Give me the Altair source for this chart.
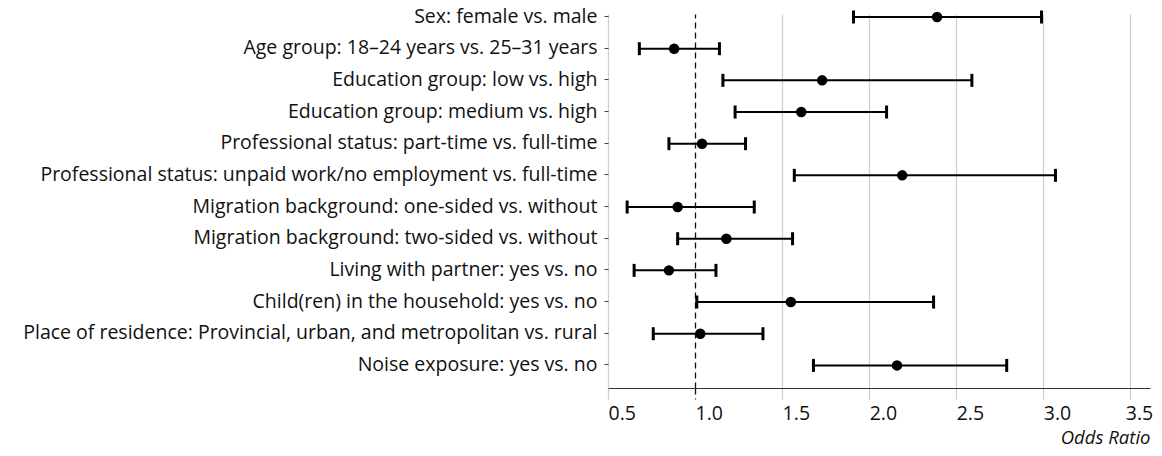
import json
import altair as alt
import pandas as pd

labels = [
    "Sex: female vs. male",
    "Age group: 18\u201324 years vs. 25\u201331 years",
    "Education group: low vs. high",
    "Education group: medium vs. high",
    "Professional status: part-time vs. full-time",
    "Professional status: unpaid work/no employment vs. full-time",
    "Migration background: one-sided vs. without",
    "Migration background: two-sided vs. without",
    "Living with partner: yes vs. no",
    "Child(ren) in the household: yes vs. no",
    "Place of residence: Provincial, urban, and metropolitan vs. rural",
    "Noise exposure: yes vs. no",
]
odds_ratio = [2.39, 0.88, 1.73, 1.61, 1.04, 2.19, 0.90, 1.18, 0.85, 1.55, 1.03, 2.16]
ci_low = [1.91, 0.68, 1.16, 1.23, 0.85, 1.57, 0.61, 0.90, 0.65, 1.01, 0.76, 1.68]
ci_high = [2.99, 1.14, 2.59, 2.10, 1.29, 3.07, 1.34, 1.56, 1.12, 2.37, 1.39, 2.79]
x_ticks = [0.5, 1.0, 1.5, 2.0, 2.5, 3.0, 3.5]

df = pd.DataFrame({
    "row": list(range(len(labels))),
    "label": labels,
    "or": odds_ratio,
    "lo": ci_low,
    "hi": ci_high,
})

FONT = "Open Sans"
FS = 19.5
label_expr = json.dumps(labels, ensure_ascii=False) + "[round(datum.value)]"

x_scale = alt.Scale(domain=[0.5, 3.613], nice=False, zero=False)
y_scale = alt.Scale(domain=[-0.095, 11.714], reverse=True, nice=False, zero=False)

x_axis = alt.Axis(
    values=x_ticks,
    format=".1f",
    title="Odds Ratio",
    titleFontStyle="italic",
    titleFontWeight="normal",
    titleFontSize=18.5,
    titleFont=FONT,
    titleColor="#111111",
    titleAnchor="end",
    titleAlign="right",
    titlePadding=6,
    labelAlign="left",
    labelOffset=alt.condition("datum.value >= 3.5", alt.value(-5), alt.value(0)),
    labelFlush=False,
    labelOverlap=False,
    labelFont=FONT,
    labelFontSize=FS,
    labelColor="#111111",
    labelPadding=5,
    tickSize=11,
    tickColor=alt.condition("datum.value == 1", alt.value("#111111"), alt.value("#d0d0d0")),
    tickDash=alt.condition("datum.value == 1", alt.value([6, 4]), alt.value([])),
    tickWidth=1.3,
    grid=True,
    gridColor=alt.condition("datum.value == 1", alt.value("#111111"), alt.value("#d0d0d0")),
    gridDash=alt.condition("datum.value == 1", alt.value([6, 4]), alt.value([])),
    gridWidth=1.3,
    domainColor="#333333",
    domainWidth=1.2,
)

y_axis = alt.Axis(
    values=list(range(len(labels))),
    labelExpr=label_expr,
    title=None,
    grid=False,
    domain=False,
    labelFont=FONT,
    labelFontSize=FS,
    labelColor="#111111",
    labelPadding=7,
    labelOverlap=False,
    labelSeparation=0,
    labelBound=False,
    labelLimit=0,
    tickSize=4,
    tickColor="#444444",
    tickOffset=-1,
)

Y = alt.Y("row:Q", scale=y_scale, axis=y_axis)
base = alt.Chart(df)

rule = base.mark_rule(color="black", strokeWidth=2).encode(
    x=alt.X("lo:Q", scale=x_scale, axis=x_axis),
    x2="hi:Q",
    y=Y,
)
cap_lo = base.mark_tick(color="black", thickness=3, size=13, orient="vertical", opacity=1).encode(
    x=alt.X("lo:Q", scale=x_scale, axis=x_axis),
    y=Y,
)
cap_hi = base.mark_tick(color="black", thickness=3, size=13, orient="vertical", opacity=1).encode(
    x=alt.X("hi:Q", scale=x_scale, axis=x_axis),
    y=Y,
)
points = base.mark_circle(color="black", size=110, opacity=1).encode(
    x=alt.X("or:Q", scale=x_scale, axis=x_axis),
    y=Y,
)

chart = (
    alt.layer(rule, cap_lo, cap_hi, points)
    .properties(
        width=542,
        height=374,
        autosize="none",
        padding={"left": 600, "top": 6, "right": 4, "bottom": 60},
        background="white",
    )
    .configure_view(strokeWidth=0)
    .configure_axisY(labelOverlap=False)
)

chart.save("out.html", embed_options={"renderer": "svg", "actions": False})
